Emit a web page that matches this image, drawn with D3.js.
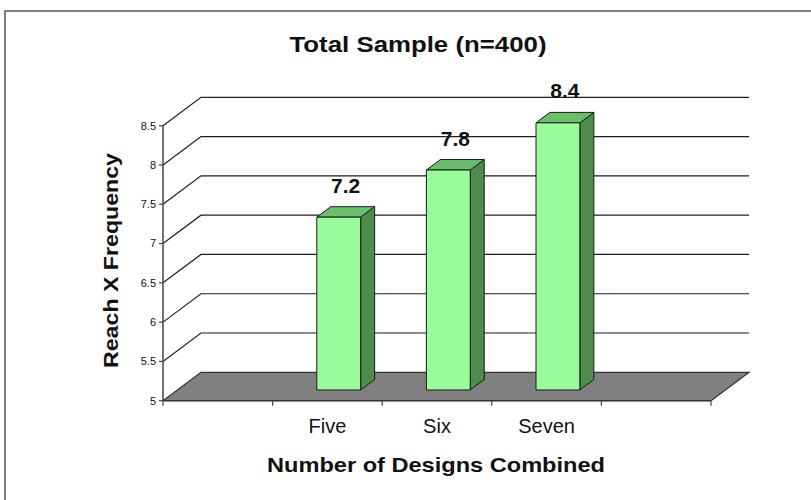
<!DOCTYPE html>
<html>
<head>
<meta charset="utf-8">
<script src="https://cdn.jsdelivr.net/npm/d3@7"></script>
<style>
  html, body { margin: 0; padding: 0; background: #fff; }
  svg { display: block; }
  text { font-family: "Liberation Sans", Arial, sans-serif; fill: #111; }
</style>
</head>
<body>
<svg id="chart" width="811" height="500"></svg>
<script>
// Data
const categories = ["Five", "Six", "Seven"];
const values = [7.2, 7.8, 8.4];
const yTicks = [5, 5.5, 6, 6.5, 7, 7.5, 8, 8.5];
const titleText = "Total Sample (n=400)";
const xTitleText = "Number of Designs Combined";
const yTitleText = "Reach X Frequency";

(function () {
const svg = d3.select("#chart");

// Plot geometry (front plane of the 3D box)
const plotLeft = 163, plotRight = 711, plotBottom = 400.7, plotTop = 125.7;
const depth = { x: 38, y: -28.4 };          // full depth offset of the back wall
const barZ0 = 0.377, barZ1 = 0.745;          // bar position within the depth
const barShift = -3;                         // bars sit slightly left of band centre

const x = d3.scaleBand().domain(categories).range([plotLeft, plotRight])
  .paddingInner(0).paddingOuter(1);
const y = d3.scaleLinear().domain([5, 8.5]).range([plotBottom, plotTop]);
const off = z => ({ dx: depth.x * z, dy: depth.y * z });

// Outer frame
svg.append("rect")
  .attr("x", 5).attr("y", 11).attr("width", 830).attr("height", 520)
  .attr("fill", "none").attr("stroke", "#555").attr("stroke-width", 1.5);

// Title
svg.append("text")
  .attr("x", 418).attr("y", 51.5).attr("text-anchor", "middle")
  .attr("font-size", 22).attr("font-weight", "bold")
  .attr("textLength", 257).attr("lengthAdjust", "spacingAndGlyphs")
  .text(titleText);

const back = off(1);
const y5 = y(5);

// Floor
svg.append("path")
  .attr("d", `M${plotLeft},${y5}L${plotRight},${y5}L${plotRight + back.dx},${y5 + back.dy}L${plotLeft + back.dx},${y5 + back.dy}Z`)
  .attr("fill", "#808080").attr("stroke", "none");

const grid = svg.append("g").attr("stroke", "#1e1e1e").attr("stroke-width", 1.2).attr("fill", "none");
grid.append("path")
  .attr("d", `M${plotLeft},${y5}L${plotLeft + back.dx},${y5 + back.dy}L${plotRight + back.dx},${y5 + back.dy}L${plotRight},${y5}`)
  .attr("stroke", "#333");

// Gridlines on side and back walls
yTicks.filter(v => v > 5).forEach(v => {
  const yy = y(v);
  grid.append("path")
    .attr("d", `M${plotLeft},${yy}L${plotLeft + back.dx},${yy + back.dy}L${plotRight + back.dx},${yy + back.dy}`);
});

// Y axis
const yAxis = svg.append("g");
yAxis.append("line").attr("x1", plotLeft).attr("x2", plotLeft).attr("y1", y(8.5)).attr("y2", y(5))
  .attr("stroke", "#444").attr("stroke-width", 1.5);
yTicks.forEach(v => {
  yAxis.append("line").attr("x1", plotLeft - 4).attr("x2", plotLeft).attr("y1", y(v)).attr("y2", y(v))
    .attr("stroke", "#444").attr("stroke-width", 1.2);
  yAxis.append("text").attr("x", plotLeft - 7).attr("y", y(v)).attr("dy", "0.35em")
    .attr("text-anchor", "end").attr("font-size", 11).attr("fill", "#222").text(v);
});

// X axis
const xAxis = svg.append("g");
xAxis.append("line").attr("x1", plotLeft).attr("x2", plotRight).attr("y1", y5).attr("y2", y5)
  .attr("stroke", "#333").attr("stroke-width", 1.5);
const step = x.step();
for (let i = 0; i <= categories.length + 2; i++) {
  const xx = plotLeft + i * step;
  xAxis.append("line").attr("x1", xx).attr("x2", xx).attr("y1", y5).attr("y2", y5 + 5)
    .attr("stroke", "#444").attr("stroke-width", 1.2);
}
categories.forEach(c => {
  xAxis.append("text").attr("x", x(c) + x.bandwidth() / 2).attr("y", 433)
    .attr("text-anchor", "middle").attr("font-size", 20).text(c);
});

// Axis titles
svg.append("text")
  .attr("x", 436).attr("y", 471.5).attr("text-anchor", "middle")
  .attr("font-size", 21).attr("font-weight", "bold")
  .attr("textLength", 338).attr("lengthAdjust", "spacingAndGlyphs")
  .text(xTitleText);
svg.append("text")
  .attr("transform", "translate(118,260.5) rotate(-90)")
  .attr("text-anchor", "middle").attr("font-size", 21).attr("font-weight", "bold")
  .attr("textLength", 215).attr("lengthAdjust", "spacingAndGlyphs")
  .text(yTitleText);

// 3D bars
const barW = x.bandwidth() * 0.4;
const o0 = off(barZ0), o1 = off(barZ1), om = off((barZ0 + barZ1) / 2);
const bars = svg.append("g").attr("stroke", "#1a1a1a").attr("stroke-width", 1).attr("stroke-linejoin", "round");
const pts = p => p.map(q => q.join(",")).join(" ");
categories.forEach((c, i) => {
  const v = values[i];
  const cx = x(c) + x.bandwidth() / 2 + barShift;
  const x0 = cx - barW / 2, x1 = cx + barW / 2;
  const yv = y(v);
  const g = bars.append("g");
  // side face
  g.append("polygon").attr("fill", "#4e8c4e").attr("points", pts([
    [x1 + o0.dx, yv + o0.dy], [x1 + o1.dx, yv + o1.dy], [x1 + o1.dx, y5 + o1.dy], [x1 + o0.dx, y5 + o0.dy]
  ]));
  // top face
  g.append("polygon").attr("fill", "#6abf6a").attr("points", pts([
    [x0 + o0.dx, yv + o0.dy], [x1 + o0.dx, yv + o0.dy], [x1 + o1.dx, yv + o1.dy], [x0 + o1.dx, yv + o1.dy]
  ]));
  // front face
  g.append("polygon").attr("fill", "#99fb99").attr("points", pts([
    [x0 + o0.dx, yv + o0.dy], [x1 + o0.dx, yv + o0.dy], [x1 + o0.dx, y5 + o0.dy], [x0 + o0.dx, y5 + o0.dy]
  ]));
  // value label
  svg.append("text").attr("x", cx + om.dx).attr("y", yv + o1.dy - 14)
    .attr("text-anchor", "middle").attr("font-size", 21).attr("font-weight", "bold")
    .text(v.toFixed(1));
});
})();
</script>
</body>
</html>
